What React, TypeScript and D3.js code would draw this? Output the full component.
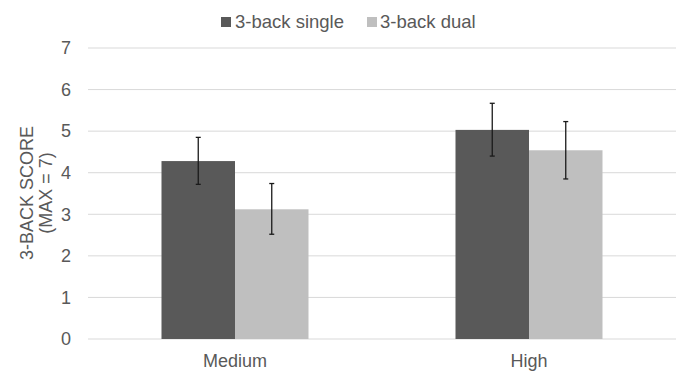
import React from "react";
import * as d3 from "d3";

const categories = ["Medium", "High"];
const seriesNames = ["3-back single", "3-back dual"];
const singleValues = [4.28, 5.03];
const dualValues = [3.12, 4.54];
const singleErrLow = [3.72, 4.40];
const singleErrHigh = [4.85, 5.67];
const dualErrLow = [2.52, 3.85];
const dualErrHigh = [3.74, 5.23];
const yTicks = [0, 1, 2, 3, 4, 5, 6, 7];
const colors = ["#595959", "#bfbfbf"];

const W = 680;
const H = 373;
const left = 88;
const right = 676;
const top = 48;
const bottom = 339;

export default function App() {
  const x0 = d3.scaleBand().domain(categories).range([left, right]).paddingInner(0.5).paddingOuter(0.25);
  const x1 = d3.scaleBand().domain(seriesNames).range([0, x0.bandwidth()]);
  const y = d3.scaleLinear().domain([0, 7]).range([bottom, top]);
  const series = [
    { name: seriesNames[0], values: singleValues, lo: singleErrLow, hi: singleErrHigh, color: colors[0] },
    { name: seriesNames[1], values: dualValues, lo: dualErrLow, hi: dualErrHigh, color: colors[1] },
  ];
  const font = "Liberation Sans, Arial, sans-serif";
  return (
    <svg width={W} height={H} style={{ position: "absolute", left: 0, top: 0, background: "#fff" }} fontFamily={font}>
      {yTicks.map((t) => (
        <g key={t}>
          <line x1={left} x2={right} y1={y(t)} y2={y(t)} stroke="#d9d9d9" strokeWidth={1} />
          <text x={71} y={y(t)} dy="0.35em" textAnchor="end" fontSize={18} fill="#595959">{t}</text>
        </g>
      ))}
      {series.map((s) =>
        categories.map((c, i) => {
          const bx = (x0(c) as number) + (x1(s.name) as number);
          const bw = x1.bandwidth();
          const cx = bx + bw / 2;
          return (
            <g key={s.name + c}>
              <rect x={bx} y={y(s.values[i])} width={bw} height={y(0) - y(s.values[i])} fill={s.color} />
              <line x1={cx} x2={cx} y1={y(s.hi[i])} y2={y(s.lo[i])} stroke="#1a1a1a" strokeWidth={1.3} />
              <line x1={cx - 2.5} x2={cx + 2.5} y1={y(s.hi[i])} y2={y(s.hi[i])} stroke="#1a1a1a" strokeWidth={1.3} />
              <line x1={cx - 2.5} x2={cx + 2.5} y1={y(s.lo[i])} y2={y(s.lo[i])} stroke="#1a1a1a" strokeWidth={1.3} />
            </g>
          );
        })
      )}
      {categories.map((c) => (
        <text key={c} x={(x0(c) as number) + x0.bandwidth() / 2} y={367} textAnchor="middle" fontSize={18} fill="#595959">{c}</text>
      ))}
      <g transform="translate(33,193) rotate(-90)">
        <text x={0} y={0} textAnchor="middle" fontSize={18} fill="#595959">3-BACK SCORE</text>
        <text x={0} y={19} textAnchor="middle" fontSize={18} fill="#595959">(MAX = 7)</text>
      </g>
      <g>
        <rect x={221} y={17} width={10} height={10} fill={colors[0]} />
        <text x={235} y={22} dy="0.35em" fontSize={18.5} fill="#595959">{seriesNames[0]}</text>
        <rect x={367} y={17} width={10} height={10} fill={colors[1]} />
        <text x={380} y={22} dy="0.35em" fontSize={18.5} fill="#595959">{seriesNames[1]}</text>
      </g>
    </svg>
  );
}
